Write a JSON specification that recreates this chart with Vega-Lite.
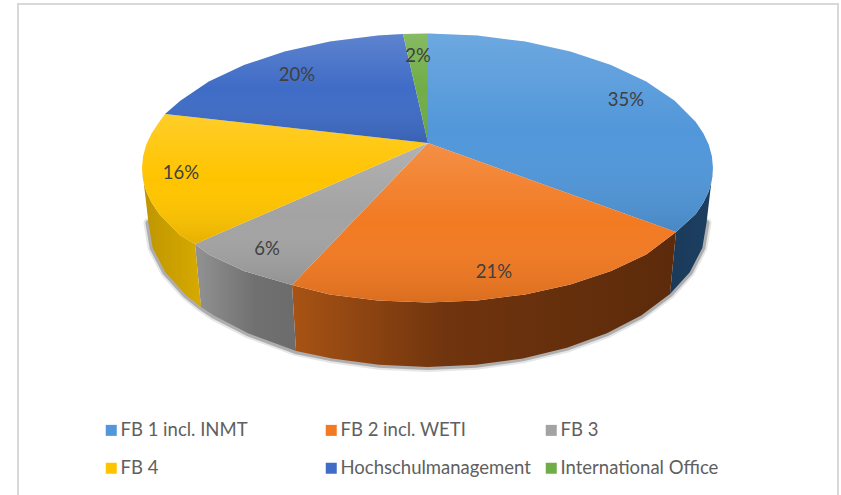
{"$schema":"https://vega.github.io/schema/vega-lite/v6.json","width":820,"height":495,"autosize":"none","padding":{"left":18,"top":4,"right":3,"bottom":0},"background":"white","config":{"view":{"stroke":"#D9D9D9","strokeWidth":2},"font":"Lato"},
"datasets":{
"edge":[{"o":1,"x":706.5,"y":223},{"o":2,"x":702.3,"y":248},{"o":3,"x":689.8,"y":272.2},{"o":4,"x":670,"y":294},{"o":5,"x":641.2,"y":315.6},{"o":6,"x":606.9,"y":333.3},{"o":7,"x":567,"y":347.7},{"o":8,"x":522.9,"y":358.4},{"o":9,"x":476,"y":364.8},{"o":10,"x":427.5,"y":367},{"o":11,"x":379,"y":364.8},{"o":12,"x":332.1,"y":358.4},{"o":13,"x":296,"y":351},{"o":14,"x":248.1,"y":333.3},{"o":15,"x":213.8,"y":315.6},{"o":16,"x":201,"y":307},{"o":17,"x":185.9,"y":295},{"o":18,"x":165.3,"y":272.2},{"o":19,"x":152.7,"y":248},{"o":20,"x":148.5,"y":223}],
"wallBlue":[{"o":1,"x":713,"y":168},{"o":2,"x":711.9,"y":179.7},{"o":3,"x":708.7,"y":191.4},{"o":4,"x":703.3,"y":202.8},{"o":5,"x":695.8,"y":214},{"o":6,"x":676,"y":232},{"o":7,"x":670,"y":294},{"o":8,"x":689.8,"y":272.2},{"o":9,"x":702.3,"y":248},{"o":10,"x":706.5,"y":223}],
"wallOrange":[{"o":1,"x":676,"y":232},{"o":2,"x":646.2,"y":254.5},{"o":3,"x":611,"y":271},{"o":4,"x":570.3,"y":284.5},{"o":5,"x":525.1,"y":294.4},{"o":6,"x":477.2,"y":300.5},{"o":7,"x":427.5,"y":302.5},{"o":8,"x":377.8,"y":300.5},{"o":9,"x":329.9,"y":294.4},{"o":10,"x":292,"y":285},{"o":11,"x":296,"y":351},{"o":12,"x":332.1,"y":358.4},{"o":13,"x":379,"y":364.8},{"o":14,"x":427.5,"y":367},{"o":15,"x":476,"y":364.8},{"o":16,"x":522.9,"y":358.4},{"o":17,"x":567,"y":347.7},{"o":18,"x":606.9,"y":333.3},{"o":19,"x":641.2,"y":315.6},{"o":20,"x":670,"y":294}],
"wallGray":[{"o":1,"x":292,"y":285},{"o":2,"x":244,"y":271},{"o":3,"x":208.8,"y":254.5},{"o":4,"x":195,"y":244},{"o":5,"x":201,"y":307},{"o":6,"x":213.8,"y":315.6},{"o":7,"x":248.1,"y":333.3},{"o":8,"x":296,"y":351}],
"wallYellow":[{"o":1,"x":195,"y":244},{"o":2,"x":180.3,"y":235.3},{"o":3,"x":159.2,"y":214},{"o":4,"x":151.7,"y":202.8},{"o":5,"x":146.3,"y":191.4},{"o":6,"x":143.1,"y":179.7},{"o":7,"x":142,"y":168},{"o":8,"x":148.5,"y":223},{"o":9,"x":152.7,"y":248},{"o":10,"x":165.3,"y":272.2},{"o":11,"x":185.9,"y":295},{"o":12,"x":201,"y":307}],
"wedges":[
{"slice":"FB 1 incl. INMT","o":0,"x":428,"y":143},{"slice":"FB 1 incl. INMT","o":1,"x":428,"y":33.5},{"slice":"FB 1 incl. INMT","o":2,"x":477.2,"y":35.5},{"slice":"FB 1 incl. INMT","o":3,"x":525.1,"y":41.6},{"slice":"FB 1 incl. INMT","o":4,"x":570.3,"y":51.5},{"slice":"FB 1 incl. INMT","o":5,"x":611,"y":65},{"slice":"FB 1 incl. INMT","o":6,"x":646.2,"y":81.5},{"slice":"FB 1 incl. INMT","o":7,"x":674.7,"y":100.7},{"slice":"FB 1 incl. INMT","o":8,"x":695.8,"y":122},{"slice":"FB 1 incl. INMT","o":9,"x":703.3,"y":133.2},{"slice":"FB 1 incl. INMT","o":10,"x":708.7,"y":144.6},{"slice":"FB 1 incl. INMT","o":11,"x":711.9,"y":156.3},{"slice":"FB 1 incl. INMT","o":12,"x":713,"y":168},{"slice":"FB 1 incl. INMT","o":13,"x":711.9,"y":179.7},{"slice":"FB 1 incl. INMT","o":14,"x":708.7,"y":191.4},{"slice":"FB 1 incl. INMT","o":15,"x":703.3,"y":202.8},{"slice":"FB 1 incl. INMT","o":16,"x":695.8,"y":214},{"slice":"FB 1 incl. INMT","o":17,"x":676,"y":232},
{"slice":"FB 2 incl. WETI","o":0,"x":428,"y":143},{"slice":"FB 2 incl. WETI","o":1,"x":676,"y":232},{"slice":"FB 2 incl. WETI","o":2,"x":646.2,"y":254.5},{"slice":"FB 2 incl. WETI","o":3,"x":611,"y":271},{"slice":"FB 2 incl. WETI","o":4,"x":570.3,"y":284.5},{"slice":"FB 2 incl. WETI","o":5,"x":525.1,"y":294.4},{"slice":"FB 2 incl. WETI","o":6,"x":477.2,"y":300.5},{"slice":"FB 2 incl. WETI","o":7,"x":427.5,"y":302.5},{"slice":"FB 2 incl. WETI","o":8,"x":377.8,"y":300.5},{"slice":"FB 2 incl. WETI","o":9,"x":329.9,"y":294.4},{"slice":"FB 2 incl. WETI","o":10,"x":292,"y":285},
{"slice":"FB 3","o":0,"x":428,"y":143},{"slice":"FB 3","o":1,"x":292,"y":285},{"slice":"FB 3","o":2,"x":244,"y":271},{"slice":"FB 3","o":3,"x":208.8,"y":254.5},{"slice":"FB 3","o":4,"x":195,"y":244},
{"slice":"FB 4","o":0,"x":428,"y":143},{"slice":"FB 4","o":1,"x":195,"y":244},{"slice":"FB 4","o":2,"x":180.3,"y":235.3},{"slice":"FB 4","o":3,"x":159.2,"y":214},{"slice":"FB 4","o":4,"x":151.7,"y":202.8},{"slice":"FB 4","o":5,"x":146.3,"y":191.4},{"slice":"FB 4","o":6,"x":143.1,"y":179.7},{"slice":"FB 4","o":7,"x":142,"y":168},{"slice":"FB 4","o":8,"x":143.1,"y":156.3},{"slice":"FB 4","o":9,"x":146.3,"y":144.6},{"slice":"FB 4","o":10,"x":151.7,"y":133.2},{"slice":"FB 4","o":11,"x":159.2,"y":122},{"slice":"FB 4","o":12,"x":165,"y":114},
{"slice":"Hochschulmanagement","o":0,"x":428,"y":143},{"slice":"Hochschulmanagement","o":1,"x":165,"y":114},{"slice":"Hochschulmanagement","o":2,"x":180.3,"y":100.7},{"slice":"Hochschulmanagement","o":3,"x":208.8,"y":81.5},{"slice":"Hochschulmanagement","o":4,"x":244,"y":65},{"slice":"Hochschulmanagement","o":5,"x":284.7,"y":51.5},{"slice":"Hochschulmanagement","o":6,"x":329.9,"y":41.6},{"slice":"Hochschulmanagement","o":7,"x":377.8,"y":35.5},{"slice":"Hochschulmanagement","o":8,"x":403,"y":34},
{"slice":"International Office","o":0,"x":428,"y":143},{"slice":"International Office","o":1,"x":403,"y":34},{"slice":"International Office","o":2,"x":428,"y":33.5}],
"labels":[{"slice":"FB 1 incl. INMT","share":"35%","x":626,"y":100},{"slice":"FB 2 incl. WETI","share":"21%","x":494,"y":272},{"slice":"FB 3","share":"6%","x":267,"y":249},{"slice":"FB 4","share":"16%","x":181,"y":173},{"slice":"Hochschulmanagement","share":"20%","x":297,"y":75},{"slice":"International Office","share":"2%","x":418,"y":56}]
},
"encoding":{"x":{"field":"x","type":"quantitative","scale":{"domain":[18,838]},"axis":null},"y":{"field":"y","type":"quantitative","scale":{"domain":[499,4]},"axis":null},"order":{"field":"o","type":"quantitative"}},
"layer":[
{"data":{"name":"edge"},"mark":{"type":"line","stroke":"#303030","strokeWidth":10,"opacity":0.12,"strokeCap":"round"}},
{"data":{"name":"edge"},"mark":{"type":"line","stroke":"#303030","strokeWidth":6,"opacity":0.3,"strokeCap":"round"}},
{"data":{"name":"wallBlue"},"mark":{"type":"line","interpolate":"linear-closed","strokeWidth":0,"fill":{"x1":0,"y1":0,"x2":1,"y2":0,"gradient":"linear","stops":[{"offset":0,"color":"#1B3A5A"},{"offset":1,"color":"#1C3F61"}]}}},
{"data":{"name":"wallOrange"},"mark":{"type":"line","interpolate":"linear-closed","strokeWidth":0,"fill":{"x1":0,"y1":0,"x2":1,"y2":0,"gradient":"linear","stops":[{"offset":0,"color":"#A85314"},{"offset":0.4,"color":"#70340E"},{"offset":1,"color":"#5C2B0B"}]}}},
{"data":{"name":"wallGray"},"mark":{"type":"line","interpolate":"linear-closed","strokeWidth":0,"fill":{"x1":0,"y1":0,"x2":1,"y2":0,"gradient":"linear","stops":[{"offset":0,"color":"#929292"},{"offset":0.6,"color":"#707070"},{"offset":1,"color":"#6C6C6C"}]}}},
{"data":{"name":"wallYellow"},"mark":{"type":"line","interpolate":"linear-closed","strokeWidth":0,"fill":{"x1":0,"y1":0,"x2":1,"y2":0,"gradient":"linear","stops":[{"offset":0,"color":"#BE9500"},{"offset":1,"color":"#D6AA00"}]}}},
{"data":{"name":"wedges"},"mark":{"type":"line","filled":true,"interpolate":"linear-closed","strokeWidth":0},"encoding":{"fill":{"field":"slice","type":"nominal","title":null,"scale":{"domain":["FB 1 incl. INMT","FB 2 incl. WETI","FB 3","FB 4","Hochschulmanagement","International Office"],"range":["#5197DA","#F27A22","#A3A3A3","#FFC400","#3F6CC6","#70AD47"]},"legend":{"orient":"none","legendX":84,"legendY":417,"columns":3,"direction":"horizontal","gridAlign":"all","columnPadding":11,"rowPadding":19,"symbolType":"square","symbolSize":121,"symbolStrokeWidth":0,"labelFont":"Lato","labelFontSize":18.5,"labelColor":"#606060","labelOffset":0,"labelLimit":260}}}},
{"data":{"name":"wedges"},"mark":{"type":"line","interpolate":"linear-closed","strokeWidth":0,"fill":{"x1":0,"y1":0,"x2":0,"y2":1,"gradient":"linear","stops":[{"offset":0,"color":"rgba(255,255,255,0.16)"},{"offset":0.5,"color":"rgba(255,255,255,0)"},{"offset":1,"color":"rgba(0,0,0,0.1)"}]}},"encoding":{"detail":{"field":"slice","type":"nominal"}}},
{"data":{"name":"labels"},"mark":{"type":"text","font":"Lato","fontSize":18.5,"color":"#404040","align":"center","baseline":"middle"},"encoding":{"text":{"field":"share","type":"nominal"},"order":null}}
]}
